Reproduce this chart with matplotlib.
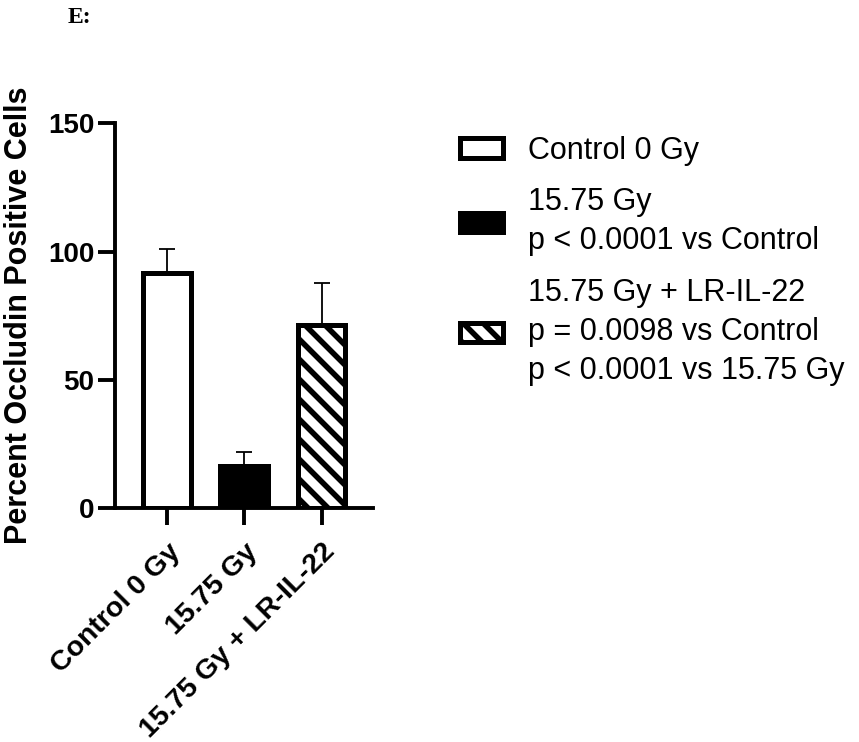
import numpy as np
import matplotlib
matplotlib.use('Agg')
import matplotlib.pyplot as plt

# values
groups = ['Control 0 Gy', '15.75 Gy', '15.75 Gy + LR-IL-22']
means = [91.5, 16.5, 71.5]
sems = [9.3, 5.2, 16.1]
legend_labels = ['Control 0 Gy',
                 '15.75 Gy\np < 0.0001 vs Control',
                 '15.75 Gy + LR-IL-22\np = 0.0098 vs Control\np < 0.0001 vs 15.75 Gy']
yticks = [0, 50, 100, 150]

# dpi 120 so the hatch spacing comes out wider; S converts sizes tuned at 100 dpi
DPI = 120
S = 100 / DPI

plt.rcParams['font.family'] = ['Liberation Sans', 'DejaVu Sans']
plt.rcParams['hatch.linewidth'] = 4.0 * S

fig = plt.figure(figsize=(859 / DPI, 742 / DPI), dpi=DPI)
ax = fig.add_axes([0.1339, 0.3154, 0.3003, 0.5184])

x = np.arange(len(groups))
faces = ['white', 'black', 'white']
hatches = [None, None, '\\\\']
bars = []
for i in range(len(groups)):
    b = ax.bar(x[i], means[i], width=0.62, color=faces[i], edgecolor='black',
               linewidth=3.6 * S, hatch=hatches[i], zorder=2, label=legend_labels[i])
    bars.append(b)
ax.errorbar(x, means, yerr=[np.zeros(3), sems], fmt='none', ecolor='black',
            elinewidth=1.3 * S, capsize=6 * S, capthick=1.3 * S, zorder=1)

ax.set_xlim(-0.675, 2.666)
ax.set_ylim(0, 150)
ax.set_yticks(yticks)
ax.set_xticks(x)
ax.set_xticklabels(groups, rotation=45, ha='right', rotation_mode='anchor',
                   fontsize=20.5 * S, fontweight='bold')
for lab in ax.get_yticklabels():
    lab.set_fontsize(20 * S)
    lab.set_fontweight('bold')
ax.tick_params(axis='both', length=12 * S, width=2.8 * S, color='black')
ax.tick_params(axis='y', pad=3 * S)
ax.tick_params(axis='x', pad=10 * S)
ax.spines['top'].set_visible(False)
ax.spines['right'].set_visible(False)
ax.spines['left'].set_linewidth(2.8 * S)
ax.spines['bottom'].set_linewidth(2.8 * S)
ax.set_ylabel('Percent Occludin Positive Cells', fontsize=22 * S, fontweight='bold',
              labelpad=10 * S)

leg = fig.legend(handles=[b[0] for b in bars], labels=legend_labels,
                 loc='upper left', bbox_to_anchor=(0.504, 0.854), frameon=False,
                 fontsize=22 * S, handlelength=1.4, handleheight=0.6, handletextpad=0.8,
                 labelspacing=0.7)
for t in leg.get_texts():
    t.set_linespacing(1.4)

fig.text(0.079, 0.99, 'E:', fontsize=17 * S, fontweight='bold',
         family=['Liberation Serif', 'DejaVu Serif'], va='top')

fig.savefig('out.png', dpi=DPI)
